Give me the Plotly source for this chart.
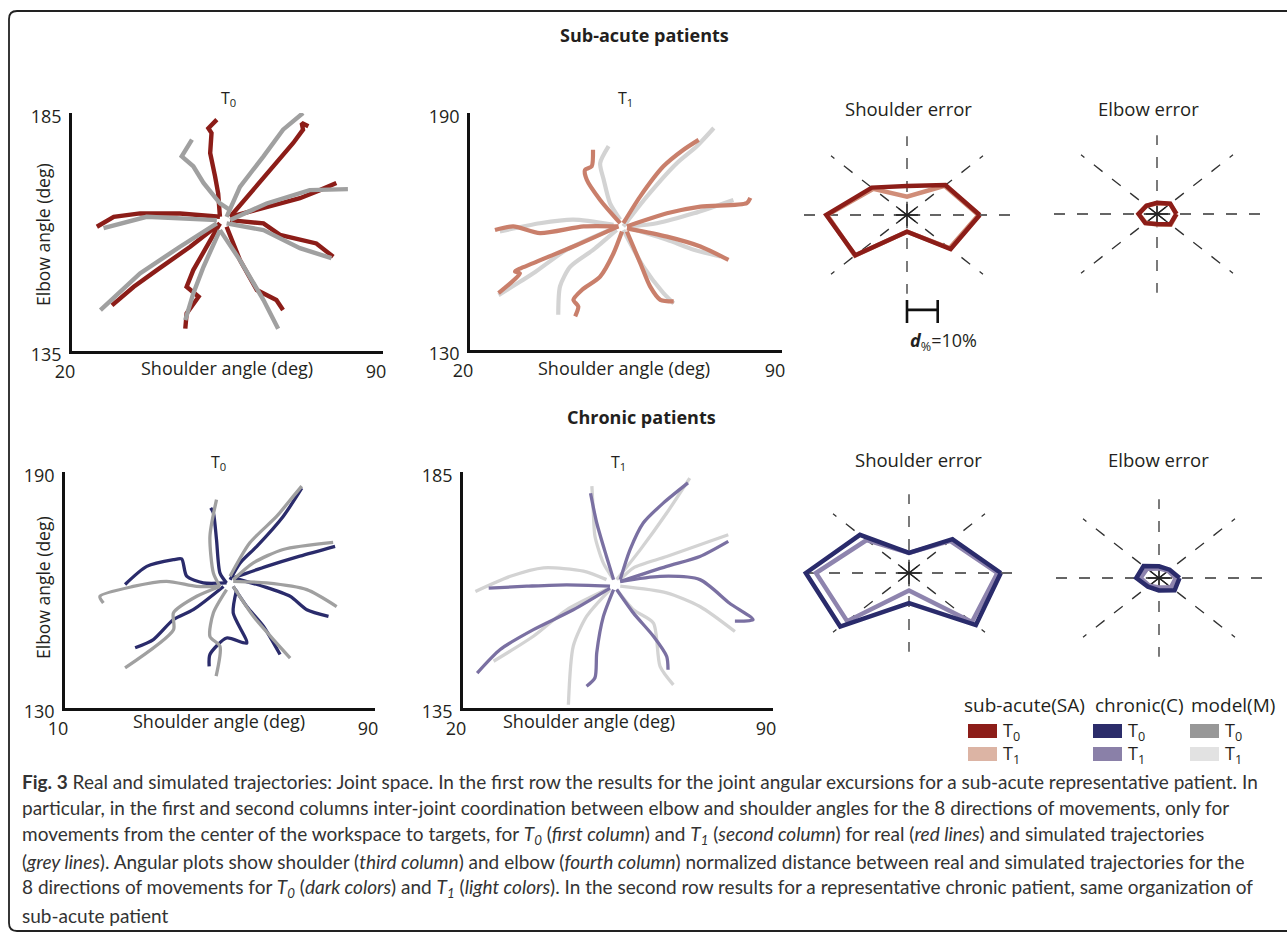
import math
import plotly.graph_objects as go

W, H = 1287, 938

# ---------------------------------------------------------------------------
# Joint-space trajectories: (shoulder angle, elbow angle) in degrees, 8 directions
# ---------------------------------------------------------------------------
SA_T0_REAL = [
    [(53.3, 163.2), (52.9, 168.1), (52.2, 171.7), (51.1, 176.6), (51.4, 180.8), (50.7, 181.8), (52.6, 183.6)],
    [(55.6, 163.2), (60.8, 168.8), (66.0, 174.5), (69.8, 178.7), (72.0, 181.5), (71.7, 182.9), (73.2, 182.2)],
    [(55.6, 163.2), (63.8, 165.3), (71.3, 167.1), (75.8, 168.8), (79.5, 170.3)],
    [(55.6, 162.5), (63.1, 161.8), (66.8, 159.4), (75.0, 157.6), (78.8, 154.8)],
    [(54.8, 161.1), (57.8, 154.1), (61.6, 147.8), (66.0, 145.7), (67.5, 143.6)],
    [(53.3, 161.8), (50.3, 156.9), (47.3, 152.0), (45.8, 148.5), (48.5, 146.4), (45.8, 142.9), (45.5, 139.7)],
    [(53.3, 161.8), (46.6, 156.9), (39.1, 152.0), (33.9, 148.5), (29.0, 144.6)],
    [(53.3, 163.2), (44.3, 163.9), (35.3, 163.9), (29.4, 163.2), (25.6, 161.1)],
]
SA_T0_MODEL = [
    [(55.6, 164.6), (53.3, 166.0), (49.6, 170.3), (47.3, 173.8), (44.7, 175.9), (47.0, 179.4)],
    [(54.8, 163.2), (57.8, 169.5), (63.1, 175.9), (67.5, 181.5), (72.0, 185.0)],
    [(55.6, 162.5), (63.8, 166.0), (73.5, 168.8), (82.1, 169.0)],
    [(54.8, 161.8), (63.1, 160.4), (71.3, 156.6), (78.4, 154.5)],
    [(53.3, 160.4), (57.8, 154.1), (63.1, 145.7), (66.4, 139.7)],
    [(53.3, 160.4), (49.6, 152.7), (47.3, 147.1), (45.5, 141.5)],
    [(52.6, 161.8), (44.3, 156.9), (35.3, 151.3), (26.4, 143.6)],
    [(52.6, 162.5), (42.8, 162.9), (36.8, 163.2), (27.1, 160.8)],
]
SA_T1_REAL = [
    [(53.7, 162.1), (49.2, 168.0), (46.2, 173.1), (45.8, 175.6), (47.3, 176.5), (47.6, 180.7)],
    [(54.4, 162.1), (58.2, 168.9), (63.4, 176.5), (67.9, 180.7), (71.3, 183.2)],
    [(55.2, 161.3), (64.2, 164.6), (71.7, 166.3), (82.1, 167.2), (82.9, 168.5)],
    [(55.2, 160.8), (64.2, 158.7), (71.7, 156.2), (78.0, 152.8)],
    [(55.2, 160.0), (58.2, 152.0), (60.4, 146.1), (62.7, 142.7), (65.7, 142.3)],
    [(54.1, 160.0), (52.2, 154.5), (49.2, 148.6), (45.1, 145.2), (43.2, 142.7), (44.3, 141.0), (43.6, 138.5)],
    [(53.3, 161.3), (43.2, 156.2), (34.2, 152.0), (30.1, 149.9), (31.2, 149.4), (26.4, 144.4)],
    [(53.3, 161.3), (45.5, 161.3), (35.7, 159.6), (29.7, 161.3), (25.6, 160.4)],
]
SA_T1_MODEL = [
    [(53.7, 163.0), (51.4, 167.2), (50.0, 173.1), (49.2, 177.3), (51.1, 181.6)],
    [(54.4, 161.3), (59.7, 168.9), (66.4, 177.3), (70.9, 181.6), (74.7, 186.2)],
    [(55.9, 161.3), (61.9, 162.1), (70.2, 164.6), (79.1, 168.0)],
    [(55.9, 160.8), (64.2, 157.9), (70.2, 155.4), (76.2, 153.7)],
    [(54.4, 160.4), (58.9, 151.1), (63.4, 144.4), (65.7, 141.8)],
    [(52.9, 160.4), (47.7, 155.4), (42.5, 151.1), (40.2, 146.1), (39.8, 138.9)],
    [(52.2, 160.8), (41.7, 155.4), (34.2, 149.4), (26.4, 143.9)],
    [(52.2, 161.7), (43.2, 163.0), (35.7, 162.1), (26.7, 160.0)],
]
C_T0_REAL = [
    [(51.7, 161.8), (50.0, 164.3), (49.1, 172.8), (48.3, 179.6), (47.6, 180.9)],
    [(52.6, 162.6), (55.2, 166.9), (59.5, 171.1), (66.3, 178.7), (71.1, 185.9)],
    [(53.4, 163.1), (62.0, 166.0), (70.6, 168.6), (79.7, 171.1)],
    [(53.4, 163.1), (61.2, 160.9), (68.1, 158.4), (72.4, 155.0), (78.0, 153.3)],
    [(53.4, 160.9), (56.9, 155.8), (61.2, 150.8), (65.5, 143.6)],
    [(54.3, 160.1), (53.4, 154.2), (56.9, 146.5), (51.7, 147.8), (47.4, 143.6), (47.2, 140.6)],
    [(50.9, 160.9), (43.1, 155.0), (38.0, 152.5), (32.8, 147.4), (28.1, 145.3)],
    [(51.7, 161.8), (45.7, 161.8), (41.4, 163.5), (40.1, 167.9), (38.0, 167.7), (31.1, 166.0), (25.5, 161.4)],
]
C_T0_MODEL = [
    [(50.0, 160.9), (48.3, 164.3), (47.4, 173.6), (49.1, 183.0)],
    [(52.6, 163.5), (57.7, 172.0), (64.6, 178.7), (68.9, 183.8), (71.1, 186.4)],
    [(53.4, 162.6), (58.6, 166.9), (66.3, 170.3), (79.2, 172.1)],
    [(53.4, 162.2), (62.0, 161.8), (72.4, 160.1), (80.1, 155.8)],
    [(53.4, 160.9), (58.6, 153.3), (64.6, 146.5), (68.1, 142.7)],
    [(51.7, 160.1), (48.3, 154.2), (47.4, 148.2), (50.0, 145.7), (49.0, 138.1)],
    [(50.0, 160.9), (44.0, 158.4), (38.0, 154.2), (38.0, 149.9), (25.5, 140.2)],
    [(50.0, 160.9), (44.0, 160.9), (36.2, 162.2), (27.6, 160.9), (19.0, 158.4), (19.9, 156.7)],
]
C_T1_REAL = [
    [(54.0, 162.2), (52.4, 167.1), (50.2, 174.2), (48.8, 180.5)],
    [(55.5, 162.2), (57.7, 168.5), (60.7, 174.2), (65.2, 178.4), (70.8, 182.7)],
    [(55.5, 161.8), (66.0, 165.0), (73.5, 167.1), (79.9, 170.3)],
    [(55.5, 161.8), (64.5, 162.9), (73.5, 162.2), (80.2, 157.2), (85.5, 153.7), (81.4, 153.4)],
    [(54.7, 160.1), (58.5, 155.1), (63.0, 150.2), (66.0, 145.9), (66.3, 143.1)],
    [(54.0, 160.1), (51.7, 154.4), (50.2, 146.7), (49.8, 141.4), (47.9, 139.6)],
    [(53.2, 160.4), (44.9, 155.8), (35.9, 151.6), (28.4, 147.4), (23.2, 142.4)],
    [(53.2, 160.8), (43.4, 161.1), (34.4, 160.8), (25.8, 160.4)],
]
C_T1_MODEL = [
    [(54.0, 162.2), (51.7, 165.7), (49.8, 171.4), (49.4, 177.0), (49.1, 182.0)],
    [(54.7, 162.2), (60.0, 168.5), (66.0, 176.3), (71.2, 183.7)],
    [(55.5, 162.2), (58.5, 164.7), (66.0, 167.1), (79.9, 171.7)],
    [(55.5, 160.8), (66.0, 159.4), (73.5, 156.5), (81.4, 151.2)],
    [(54.7, 160.1), (58.5, 155.8), (63.0, 153.0), (64.5, 143.8), (67.5, 139.9)],
    [(53.2, 160.1), (47.9, 154.4), (44.9, 148.1), (43.8, 135.7)],
    [(52.4, 160.1), (43.4, 155.8), (35.9, 150.2), (26.9, 144.9)],
    [(52.4, 162.2), (47.2, 164.0), (38.2, 164.7), (30.7, 162.9), (22.8, 159.7)],
]

# axis ranges (also used as the two end tick labels)
SA_T0_XRANGE, SA_T0_YRANGE = [20, 90], [135, 185]
SA_T1_XRANGE, SA_T1_YRANGE = [20, 90], [130, 190]
C_T0_XRANGE, C_T0_YRANGE = [10, 90], [130, 190]
C_T1_XRANGE, C_T1_YRANGE = [20, 90], [135, 185]

# ---------------------------------------------------------------------------
# Normalized distance (%) between real and simulated trajectories per direction
# ---------------------------------------------------------------------------
DIRECTIONS = [0, 45, 90, 135, 180, 225, 270, 315]
SA_SHOULDER_T0 = [23.7, 17.7, 12.1, 16.2, 26.3, 23.8, 7.0, 20.1]
SA_SHOULDER_T1 = [23.3, 17.3, 7.7, 15.5, 26.0, 24.0, 7.0, 19.6]
SA_ELBOW_T0 = [6.3, 6.1, 4.7, 4.9, 6.0, 5.4, 4.2, 6.1]
SA_ELBOW_T1 = [6.4, 6.0, 4.5, 4.8, 6.0, 5.2, 4.4, 6.3]
C_SHOULDER_T0 = [29.9, 20.0, 8.4, 22.6, 33.6, 31.7, 12.6, 30.8]
C_SHOULDER_T1 = [28.8, 19.0, 8.4, 19.5, 30.3, 28.5, 7.3, 29.0]
C_ELBOW_T0 = [6.7, 4.9, 4.9, 7.1, 7.4, 5.1, 5.2, 7.2]
C_ELBOW_T1 = [5.5, 4.2, 4.0, 5.5, 6.0, 4.5, 4.0, 5.5]
SCALE_BAR = 10  # d% = 10%

# ---------------------------------------------------------------------------
# Colours and styling
# ---------------------------------------------------------------------------
RED_T0, RED_T1 = "#8c1d18", "#c97f6b"
NAVY_T0, PURPLE_T1 = "#2a2b6b", "#7a70a2"
GREY_T0, GREY_T1 = "#a0a0a0", "#d3d3d3"
POLAR_RED_T1, POLAR_PURPLE_T1 = "#d08d78", "#8e84ae"
SWATCH = {
    "sa0": "#8c1d18", "sa1": "#dcb4a4",
    "c0": "#2b2c6a", "c1": "#8a80a8",
    "m0": "#989898", "m1": "#e2e2e2",
}
TEXT = "#231f20"
FONT = "Open Sans"
CAPTION_FONT = "Lato"


def fx(px):
    return px / W


def fy(py):
    return 1 - py / H


fig = go.Figure()
layout = dict(
    template="none",
    width=W, height=H,
    margin=dict(l=0, r=0, t=0, b=0, pad=0, autoexpand=False),
    paper_bgcolor="white", plot_bgcolor="rgba(0,0,0,0)",
    showlegend=False,
    font=dict(family=FONT, color=TEXT, size=16),
)

# ------------------------------ trajectory panels ------------------------------
traj_panels = [
    dict(real=SA_T0_REAL, model=SA_T0_MODEL, xr=SA_T0_XRANGE, yr=SA_T0_YRANGE,
         box=(72, 383, 113, 351), rc=RED_T0, mc=GREY_T0, w=4.4, real_top=False, shape="linear"),
    dict(real=SA_T1_REAL, model=SA_T1_MODEL, xr=SA_T1_XRANGE, yr=SA_T1_YRANGE,
         box=(470, 782, 113, 350), rc=RED_T1, mc=GREY_T1, w=4.2, real_top=True, shape="spline"),
    dict(real=C_T0_REAL, model=C_T0_MODEL, xr=C_T0_XRANGE, yr=C_T0_YRANGE,
         box=(65, 375, 472, 708), rc=NAVY_T0, mc=GREY_T0, w=3.3, real_top=False, shape="spline"),
    dict(real=C_T1_REAL, model=C_T1_MODEL, xr=C_T1_XRANGE, yr=C_T1_YRANGE,
         box=(463, 773, 472, 708), rc=PURPLE_T1, mc=GREY_T1, w=3.3, real_top=True, shape="spline"),
]

for i, p in enumerate(traj_panels, start=1):
    sfx = "" if i == 1 else str(i)
    xa, ya = "x" + sfx, "y" + sfx
    x0, x1, y0, y1 = p["box"]
    layout["xaxis" + sfx] = dict(
        domain=[fx(x0), fx(x1)], range=p["xr"], anchor=ya, automargin=False,
        showline=True, linewidth=2.6, linecolor="#111", mirror=False,
        tickvals=p["xr"], ticks="", showgrid=False, zeroline=False,
        tickfont=dict(size=18, color=TEXT), ticklabelshift=-7, ticklabelstandoff=3,
        fixedrange=True,
    )
    layout["yaxis" + sfx] = dict(
        domain=[fy(y1), fy(y0)], range=p["yr"], anchor=xa, automargin=False,
        showline=True, linewidth=2.6, linecolor="#111", mirror=False,
        tickvals=p["yr"], ticks="", showgrid=False, zeroline=False,
        tickfont=dict(size=18, color=TEXT), ticklabelshift=4, ticklabelstandoff=4,
        fixedrange=True,
    )
    groups = [(p["model"], p["mc"]), (p["real"], p["rc"])]
    if not p["real_top"]:
        groups = groups[::-1]
    for trajs, col in groups:
        for tr in trajs:
            fig.add_trace(go.Scatter(
                x=[pt[0] for pt in tr], y=[pt[1] for pt in tr], mode="lines",
                line=dict(color=col, width=p["w"], shape=p["shape"], smoothing=0.7),
                xaxis=xa, yaxis=ya, hoverinfo="skip",
            ))

# ------------------------------ angular error panels ------------------------------
SX, SY = 3.07, 2.39  # px per percent, horizontal / vertical
SPOKE_LEN = [35, 35, 33, 35, 35, 35, 33, 35]
polar_panels = [
    dict(t0=SA_SHOULDER_T0, t1=SA_SHOULDER_T1, c0=RED_T0, c1=POLAR_RED_T1, center=(907, 215), bar=True),
    dict(t0=SA_ELBOW_T0, t1=SA_ELBOW_T1, c0=RED_T0, c1=POLAR_RED_T1, center=(1157, 214), bar=False),
    dict(t0=C_SHOULDER_T0, t1=C_SHOULDER_T1, c0=NAVY_T0, c1=POLAR_PURPLE_T1, center=(909, 573), bar=False),
    dict(t0=C_ELBOW_T0, t1=C_ELBOW_T1, c0=NAVY_T0, c1=POLAR_PURPLE_T1, center=(1159, 578), bar=False),
]


def polar_xy(radii):
    xs = [r * math.cos(math.radians(a)) for r, a in zip(radii, DIRECTIONS)]
    ys = [r * math.sin(math.radians(a)) for r, a in zip(radii, DIRECTIONS)]
    return xs + xs[:1], ys + ys[:1]


for j, q in enumerate(polar_panels, start=5):
    sfx = str(j)
    xa, ya = "x" + sfx, "y" + sfx
    cx, cy = q["center"]
    layout["xaxis" + sfx] = dict(domain=[fx(cx - 40 * SX), fx(cx + 40 * SX)], range=[-40, 40],
                                 anchor=ya, visible=False, fixedrange=True, automargin=False)
    layout["yaxis" + sfx] = dict(domain=[fy(cy + 50 * SY), fy(cy - 50 * SY)], range=[-50, 50],
                                 anchor=xa, visible=False, fixedrange=True, automargin=False)
    # dashed direction spokes
    for a, L in zip(DIRECTIONS, SPOKE_LEN):
        fig.add_trace(go.Scatter(
            x=[0, L * math.cos(math.radians(a))], y=[0, L * math.sin(math.radians(a))],
            mode="lines", line=dict(color="#333", width=1.3, dash="11px,12px"),
            xaxis=xa, yaxis=ya, hoverinfo="skip"))
    # solid star at the origin
    for a in (0, 45, 90, 135):
        c, s = math.cos(math.radians(a)), math.sin(math.radians(a))
        rr = 4.3 if a in (0, 90) else 5.0
        ry = rr * SX / SY if a == 90 else rr
        fig.add_trace(go.Scatter(
            x=[-rr * c, rr * c], y=[-ry * s, ry * s], mode="lines",
            line=dict(color="#222", width=1.3), xaxis=xa, yaxis=ya, hoverinfo="skip"))
    for radii, col in ((q["t1"], q["c1"]), (q["t0"], q["c0"])):
        px_, py_ = polar_xy(radii)
        fig.add_trace(go.Scatter(x=px_, y=py_, mode="lines",
                                 line=dict(color=col, width=4.5),
                                 xaxis=xa, yaxis=ya, hoverinfo="skip"))
    if q["bar"]:
        for bx, by in (([0, SCALE_BAR], [-39.7, -39.7]), ([0, 0], [-35.6, -45.2]),
                       ([SCALE_BAR, SCALE_BAR], [-35.6, -45.2])):
            fig.add_trace(go.Scatter(x=bx, y=by, mode="lines",
                                     line=dict(color="#111", width=2.6),
                                     xaxis=xa, yaxis=ya, hoverinfo="skip"))

# ------------------------------ text ------------------------------
ann = []


def text(x, y, s, size=16, xanchor="center", color=TEXT, family=FONT, angle=0):
    ann.append(dict(x=fx(x), y=fy(y), xref="paper", yref="paper", text=s, showarrow=False,
                    xanchor=xanchor, yanchor="middle", textangle=angle,
                    font=dict(size=size, color=color, family=family)))


text(644, 35, "<b>Sub-acute patients</b>", 18)
text(641, 417, "<b>Chronic patients</b>", 18)

text(228, 99, "T<sub>0</sub>", 16)
text(625, 99, "T<sub>1</sub>", 16)
text(218, 462, "T<sub>0</sub>", 16)
text(618, 462, "T<sub>1</sub>", 16)

text(227, 368, "Shoulder angle (deg)", 18)
text(624, 368, "Shoulder angle (deg)", 18)
text(219, 721, "Shoulder angle (deg)", 18)
text(589, 721, "Shoulder angle (deg)", 18)
text(43, 235, "Elbow angle (deg)", 17.5, angle=-90)
text(43, 588, "Elbow angle (deg)", 17.5, angle=-90)

text(908, 108, "Shoulder error", 18.5)
text(1148, 108, "Elbow error", 18.5)
text(918, 459, "Shoulder error", 18.5)
text(1158, 459, "Elbow error", 18.5)

text(908, 341, "<b><i>d</i></b><sub>%</sub>=10%", 18, xanchor="left")

# legend
text(962, 705, "sub-acute(SA)", 19, xanchor="left")
text(1093, 705, "chronic(C)", 19, xanchor="left")
text(1189, 705, "model(M)", 19, xanchor="left")
shapes = []
legend_cols = [(968, "sa0", "sa1"), (1093, "c0", "c1"), (1190, "m0", "m1")]
for lx, k0, k1 in legend_cols:
    for (ky, key, lab) in ((731, k0, "T<sub>0</sub>"), (754, k1, "T<sub>1</sub>")):
        shapes.append(dict(type="rect", xref="paper", yref="paper",
                           x0=fx(lx), x1=fx(lx + 29), y0=fy(ky + 7), y1=fy(ky - 7),
                           fillcolor=SWATCH[key], line=dict(width=0)))
        text(lx + 33, ky, lab, 18, xanchor="left")

# caption
CAPTION = [
    "<b>Fig. 3</b> Real and simulated trajectories: Joint space. In the first row the results for the joint angular excursions for a sub-acute representative patient. In",
    "particular, in the first and second columns inter-joint coordination between elbow and shoulder angles for the 8 directions of movements, only for",
    "movements from the center of the workspace to targets, for <i>T<sub>0</sub></i> (<i>first column</i>) and <i>T<sub>1</sub></i> (<i>second column</i>) for real (<i>red lines</i>) and simulated trajectories",
    "(<i>grey lines</i>). Angular plots show shoulder (<i>third column</i>) and elbow (<i>fourth column</i>) normalized distance between real and simulated trajectories for the",
    "8 directions of movements for <i>T<sub>0</sub></i> (<i>dark colors</i>) and <i>T<sub>1</sub></i> (<i>light colors</i>). In the second row results for a representative chronic patient, same organization of",
    "sub-acute patient",
]
for k, line in enumerate(CAPTION):
    text(20, 781 + k * 26.8, line, 19, xanchor="left", color="#333", family=CAPTION_FONT)

# rounded frame around the whole figure (right side runs off the page)
L_, T_, R_, B_, rad = 9, 11, 1310, 931, 8
frame = (f"M {fx(R_)},{fy(T_)} L {fx(L_ + rad)},{fy(T_)} Q {fx(L_)},{fy(T_)} {fx(L_)},{fy(T_ + rad)} "
         f"L {fx(L_)},{fy(B_ - rad)} Q {fx(L_)},{fy(B_)} {fx(L_ + rad)},{fy(B_)} L {fx(R_)},{fy(B_)}")
shapes.append(dict(type="path", xref="paper", yref="paper", path=frame,
                   line=dict(color="#222", width=1.8)))

layout["annotations"] = ann
layout["shapes"] = shapes
fig.update_layout(**layout)
fig.write_html(
    "out.html",
    post_script="document.body.style.margin='0';document.body.style.padding='0';"
                "document.body.style.overflow='hidden';",
)
